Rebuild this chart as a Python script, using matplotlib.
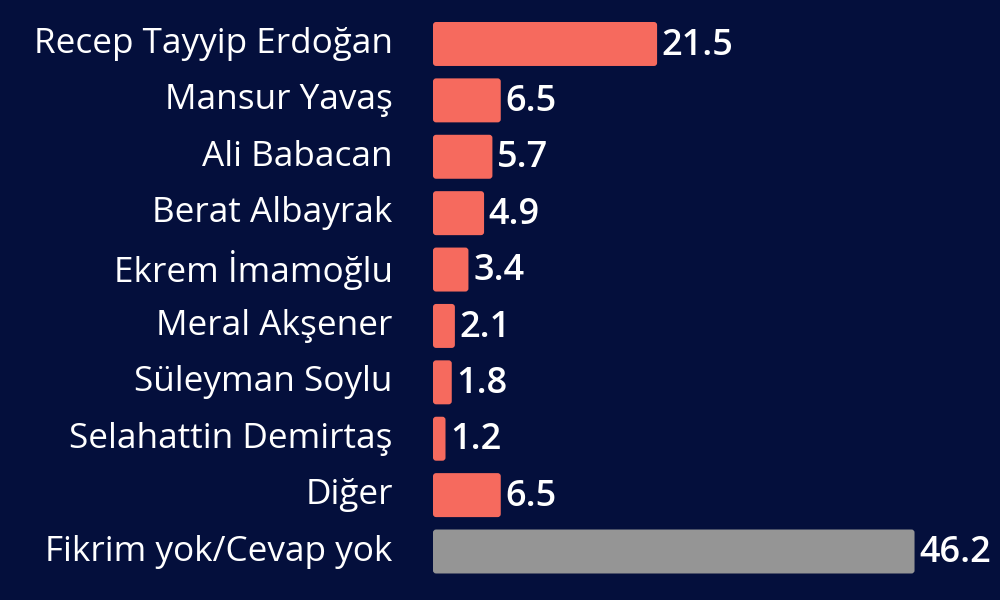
import matplotlib
matplotlib.use("Agg")
import matplotlib.pyplot as plt
from matplotlib.patches import FancyBboxPatch

names = ["Recep Tayyip Erdoğan", "Mansur Yavaş", "Ali Babacan", "Berat Albayrak",
         "Ekrem İmamoğlu", "Meral Akşener", "Süleyman Soylu", "Selahattin Demirtaş",
         "Diğer", "Fikrim yok/Cevap yok"]
values = [21.5, 6.5, 5.7, 4.9, 3.4, 2.1, 1.8, 1.2, 6.5, 46.2]
colors = ["#f66a5e"] * 9 + ["#959595"]

bg = "#040f3c"
plt.rcParams['font.family'] = ['Open Sans', 'DejaVu Sans']

fig = plt.figure(figsize=(10, 6), dpi=100, facecolor=bg)
ax = fig.add_axes([0.433, 0.0, 0.567, 1.0])
ax.set_facecolor(bg)

ypos = list(range(len(names)))
bars = ax.barh(ypos, values, height=0.78, color=colors)

# swap plain bars for slightly rounded ones
for b, c in zip(bars, colors):
    b.set_visible(False)
    ax.add_patch(FancyBboxPatch((b.get_x(), b.get_y()), b.get_width(), b.get_height(),
                                boxstyle="round,pad=0,rounding_size=0.3",
                                mutation_aspect=0.18, facecolor=c, edgecolor="none"))

for y, v in zip(ypos, values):
    ax.text(v + 0.45, y + 0.03, f"{v}", color="white", fontsize=26, fontweight="semibold",
            ha="left", va="center")

for y, n in zip(ypos, names):
    ax.text(-3.85, y, n, color="white", fontsize=25.3, fontweight="medium", ha="right",
            va="center", clip_on=False)

ax.set_xlim(0, 54.4)
ax.set_ylim(9.86, -0.78)
ax.axis("off")

fig.savefig("out.png", facecolor=bg)
